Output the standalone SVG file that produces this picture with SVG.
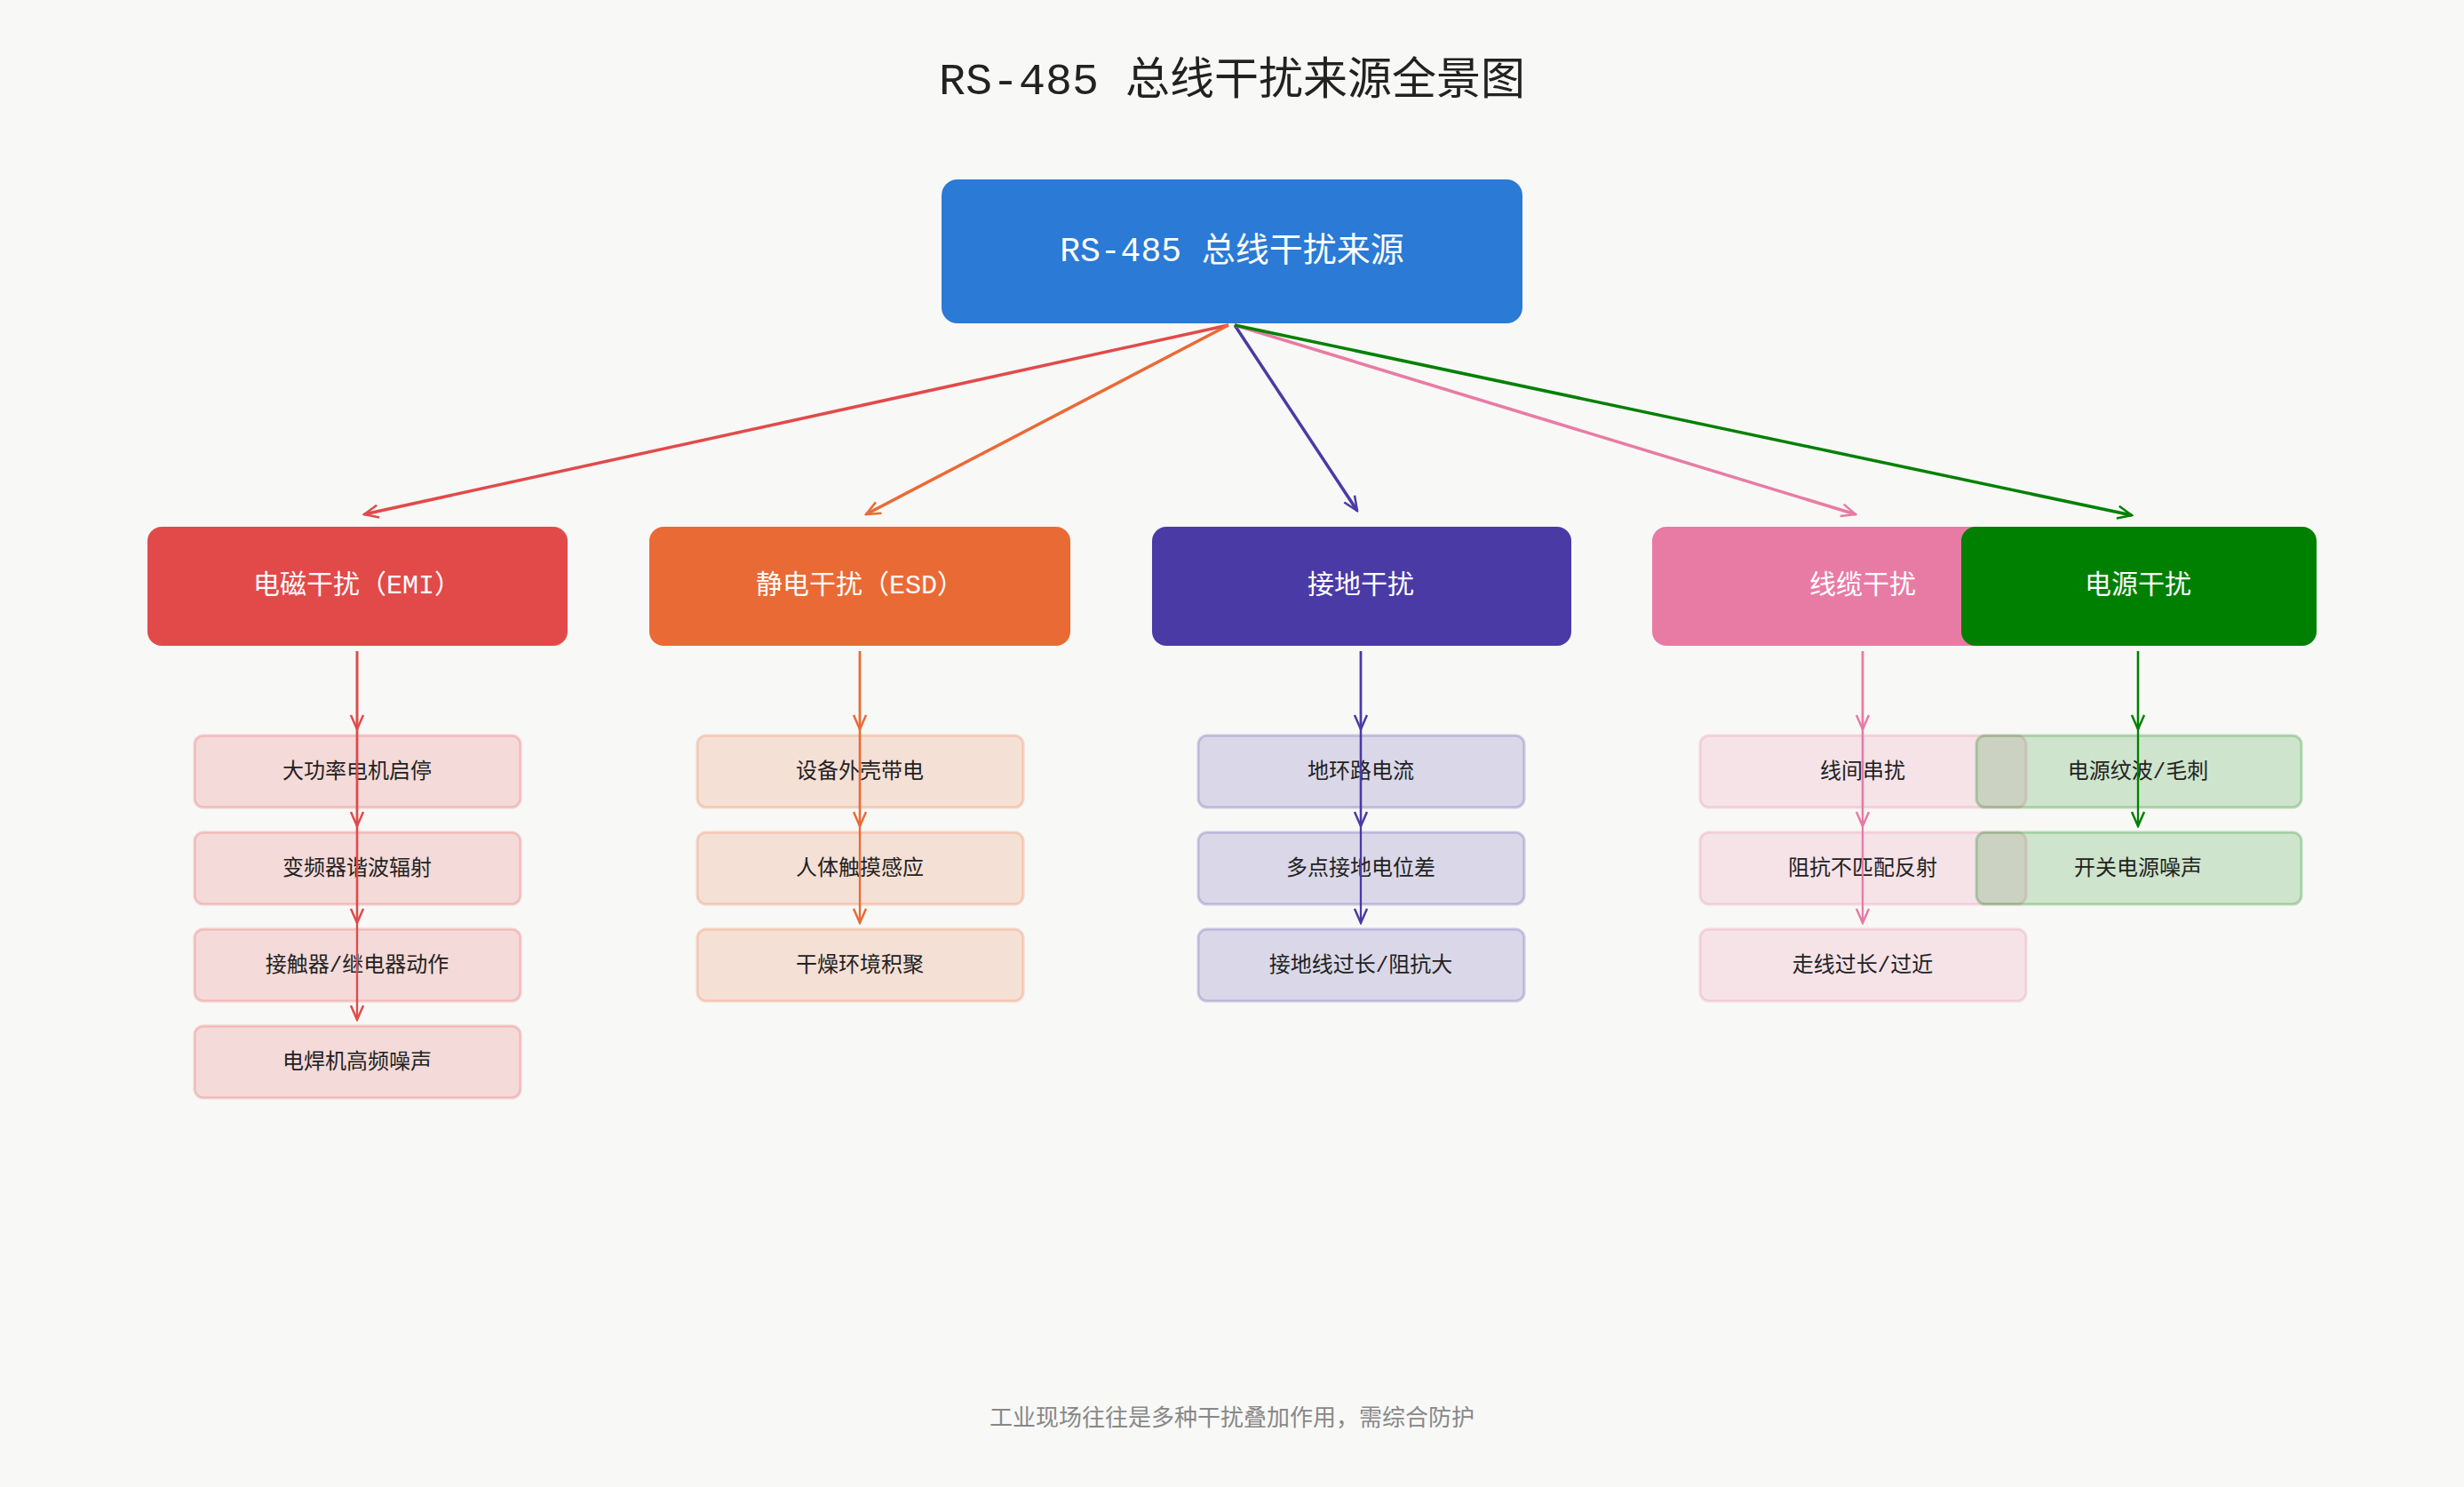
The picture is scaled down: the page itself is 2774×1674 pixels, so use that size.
<svg xmlns="http://www.w3.org/2000/svg" width="2774" height="1674" viewBox="0 0 2774 1674">
<style>
text{font-family:"Liberation Mono","Noto Sans CJK SC",monospace;text-anchor:middle;dominant-baseline:central}
.title{font-size:50px;fill:#222}
.root{font-size:38px;fill:#fff}
.cat{font-size:30px;fill:#fff}
.ch{font-size:24px;fill:#222}
.foot{font-size:26px;fill:#888}
.c{fill:none;stroke-width:3.5}
.s{fill:none;stroke-width:2.3}
.child{stroke-width:3;fill-opacity:0.17;stroke-opacity:0.25}
</style>
<defs>
<marker id="mr" viewBox="0 0 20 20" refX="18" refY="10" markerWidth="20" markerHeight="20" markerUnits="userSpaceOnUse" orient="auto"><path d="M2,3 L18,10 L2,17" fill="none" stroke="#e24a4a" stroke-width="2.5"/></marker>
<marker id="mo" viewBox="0 0 20 20" refX="18" refY="10" markerWidth="20" markerHeight="20" markerUnits="userSpaceOnUse" orient="auto"><path d="M2,3 L18,10 L2,17" fill="none" stroke="#ea6a35" stroke-width="2.5"/></marker>
<marker id="mb" viewBox="0 0 20 20" refX="18" refY="10" markerWidth="20" markerHeight="20" markerUnits="userSpaceOnUse" orient="auto"><path d="M2,3 L18,10 L2,17" fill="none" stroke="#4a3aa6" stroke-width="2.5"/></marker>
<marker id="mp" viewBox="0 0 20 20" refX="18" refY="10" markerWidth="20" markerHeight="20" markerUnits="userSpaceOnUse" orient="auto"><path d="M2,3 L18,10 L2,17" fill="none" stroke="#e87ba4" stroke-width="2.5"/></marker>
<marker id="mg" viewBox="0 0 20 20" refX="18" refY="10" markerWidth="20" markerHeight="20" markerUnits="userSpaceOnUse" orient="auto"><path d="M2,3 L18,10 L2,17" fill="none" stroke="#008000" stroke-width="2.5"/></marker>
</defs>
<rect width="2774" height="1674" fill="#f8f8f6"/>
<text class="title" x="1387" y="92">RS-485 总线干扰来源全景图</text>

<g id="root"><rect x="1060" y="202" width="654" height="162" rx="18" fill="#2a7ad6"/><text class="root" x="1387" y="283">RS-485 总线干扰来源</text></g>

<g id="emi"><rect x="166" y="593" width="473" height="134" rx="16" fill="#e24a4a"/><text class="cat" x="402" y="660">电磁干扰（EMI）</text></g>
<g id="esd"><rect x="731" y="593" width="474" height="134" rx="16" fill="#ea6a35"/><text class="cat" x="968" y="660">静电干扰（ESD）</text></g>
<g id="gnd"><rect x="1297" y="593" width="472" height="134" rx="16" fill="#4a3aa6"/><text class="cat" x="1532" y="660">接地干扰</text></g>
<g id="cable"><rect x="1860" y="593" width="473" height="134" rx="16" fill="#e87ba4"/><text class="cat" x="2097" y="660">线缆干扰</text></g>
<g id="power"><rect x="2208" y="593" width="400" height="134" rx="16" fill="#008000"/><text class="cat" x="2407" y="660">电源干扰</text></g>

<g id="emi-children" fill="#e24a4a" stroke="#e24a4a">
<g id="emi1"><rect class="child" x="219" y="828" width="367" height="81" rx="10"/><text class="ch" x="402" y="869" stroke="none">大功率电机启停</text></g>
<g id="emi2"><rect class="child" x="219" y="937" width="367" height="81" rx="10"/><text class="ch" x="402" y="978" stroke="none">变频器谐波辐射</text></g>
<g id="emi3"><rect class="child" x="219" y="1046" width="367" height="81" rx="10"/><text class="ch" x="402" y="1087" stroke="none">接触器/继电器动作</text></g>
<g id="emi4"><rect class="child" x="219" y="1155" width="367" height="81" rx="10"/><text class="ch" x="402" y="1196" stroke="none">电焊机高频噪声</text></g>
</g>
<g id="esd-children" fill="#ea6a35" stroke="#ea6a35">
<g id="esd1"><rect class="child" x="785" y="828" width="367" height="81" rx="10"/><text class="ch" x="968" y="869" stroke="none">设备外壳带电</text></g>
<g id="esd2"><rect class="child" x="785" y="937" width="367" height="81" rx="10"/><text class="ch" x="968" y="978" stroke="none">人体触摸感应</text></g>
<g id="esd3"><rect class="child" x="785" y="1046" width="367" height="81" rx="10"/><text class="ch" x="968" y="1087" stroke="none">干燥环境积聚</text></g>
</g>
<g id="gnd-children" fill="#4a3aa6" stroke="#4a3aa6">
<g id="gnd1"><rect class="child" x="1349" y="828" width="367" height="81" rx="10"/><text class="ch" x="1532" y="869" stroke="none">地环路电流</text></g>
<g id="gnd2"><rect class="child" x="1349" y="937" width="367" height="81" rx="10"/><text class="ch" x="1532" y="978" stroke="none">多点接地电位差</text></g>
<g id="gnd3"><rect class="child" x="1349" y="1046" width="367" height="81" rx="10"/><text class="ch" x="1532" y="1087" stroke="none">接地线过长/阻抗大</text></g>
</g>
<g id="cable-children" fill="#e87ba4" stroke="#e87ba4">
<g id="cab1"><rect class="child" x="1914" y="828" width="367" height="81" rx="10"/><text class="ch" x="2097" y="869" stroke="none">线间串扰</text></g>
<g id="cab2"><rect class="child" x="1914" y="937" width="367" height="81" rx="10"/><text class="ch" x="2097" y="978" stroke="none">阻抗不匹配反射</text></g>
<g id="cab3"><rect class="child" x="1914" y="1046" width="367" height="81" rx="10"/><text class="ch" x="2097" y="1087" stroke="none">走线过长/过近</text></g>
</g>
<g id="power-children" fill="#008000" stroke="#008000">
<g id="pw1"><rect class="child" x="2225" y="828" width="366" height="81" rx="10"/><text class="ch" x="2407" y="869" stroke="none">电源纹波/毛刺</text></g>
<g id="pw2"><rect class="child" x="2225" y="937" width="366" height="81" rx="10"/><text class="ch" x="2407" y="978" stroke="none">开关电源噪声</text></g>
</g>

<g id="connectors">
<path class="c" stroke="#e24a4a" marker-end="url(#mr)" d="M1383,366 L410,579"/>
<path class="c" stroke="#ea6a35" marker-end="url(#mo)" d="M1383,366 L975,579"/>
<path class="c" stroke="#4a3aa6" marker-end="url(#mb)" d="M1390,366 L1528,575"/>
<path class="c" stroke="#e87ba4" marker-end="url(#mp)" d="M1390,366 L2089,579"/>
<path class="c" stroke="#008000" marker-end="url(#mg)" d="M1390,366 L2400,580"/>

<g stroke="#e24a4a"><path class="s" marker-end="url(#mr)" d="M402,733 V821"/><path class="s" marker-end="url(#mr)" d="M402,733 V930"/><path class="s" marker-end="url(#mr)" d="M402,733 V1039"/><path class="s" marker-end="url(#mr)" d="M402,733 V1148"/></g>
<g stroke="#ea6a35"><path class="s" marker-end="url(#mo)" d="M968,733 V821"/><path class="s" marker-end="url(#mo)" d="M968,733 V930"/><path class="s" marker-end="url(#mo)" d="M968,733 V1039"/></g>
<g stroke="#4a3aa6"><path class="s" marker-end="url(#mb)" d="M1532,733 V821"/><path class="s" marker-end="url(#mb)" d="M1532,733 V930"/><path class="s" marker-end="url(#mb)" d="M1532,733 V1039"/></g>
<g stroke="#e87ba4"><path class="s" marker-end="url(#mp)" d="M2097,733 V821"/><path class="s" marker-end="url(#mp)" d="M2097,733 V930"/><path class="s" marker-end="url(#mp)" d="M2097,733 V1039"/></g>
<g stroke="#008000"><path class="s" marker-end="url(#mg)" d="M2407,733 V821"/><path class="s" marker-end="url(#mg)" d="M2407,733 V930"/></g>
</g>

<text class="foot" x="1387" y="1598">工业现场往往是多种干扰叠加作用，需综合防护</text>
</svg>
